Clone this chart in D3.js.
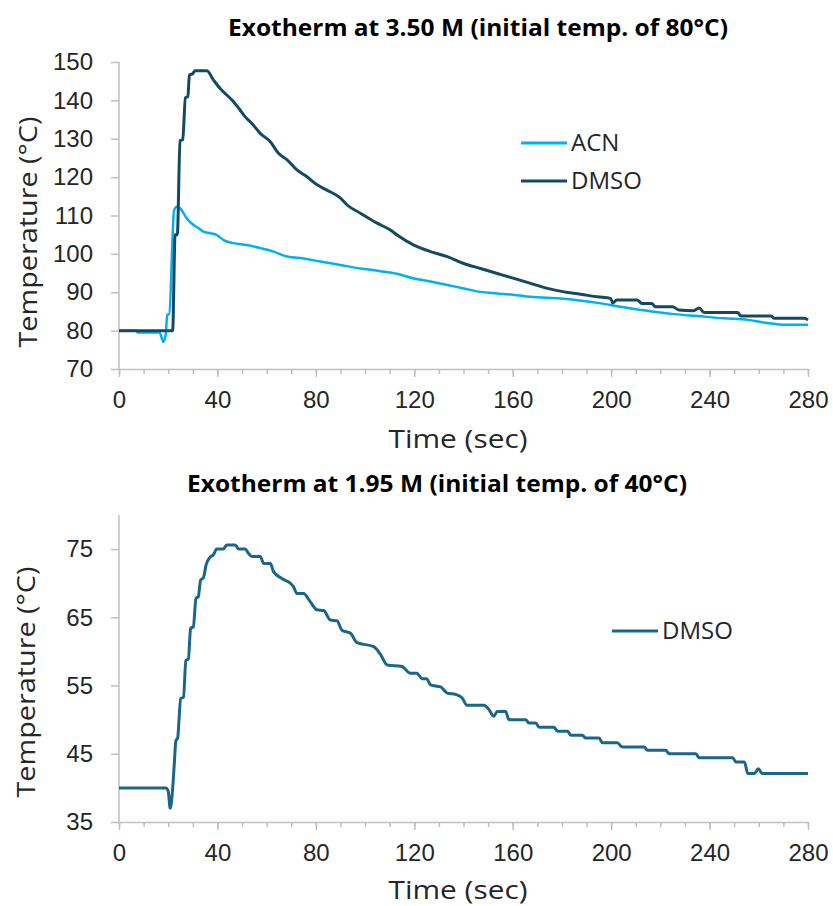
<!DOCTYPE html>
<html>
<head>
<meta charset="utf-8">
<script src="https://cdn.jsdelivr.net/npm/d3@7"></script>
<style>
  body { margin: 0; background: #fff; }
  svg { display: block; font-family: "Open Sans", sans-serif; }
  .tick text { fill: #262626; }
</style>
</head>
<body>
<svg id="chart" width="833" height="906"></svg>
<script>
// x ticks (sec)
var xMajor = [0, 40, 80, 120, 160, 200, 240, 280];
var xMinor = d3.range(0, 281, 10);

// top panel: 3.50 M, start at 80 C
var topTicks = [70, 80, 90, 100, 110, 120, 130, 140, 150];
var topAcn = [
  [0, 80], [7, 80], [7.5, 79.5], [16.5, 79.5], [18.0, 77.1], [19.0, 79], [19.6, 84.1], [20.4, 84.3],
  [22.4, 111.4], [23.5, 112.3], [24.8, 111.9], [27.5, 109.3], [30.3, 107.5], [32.3, 106.7], [34.3, 105.8],
  [37.0, 105.4], [39.8, 104.9], [42.5, 103.6], [46.5, 102.8], [52, 102.3], [57.4, 101.5], [62.8, 100.6],
  [68.3, 99.3], [75, 98.8], [81.8, 98.0], [89.9, 97.1], [98.1, 96.2], [106.2, 95.5], [113.0, 94.8],
  [119.8, 93.6], [126.6, 92.8], [133.4, 91.9], [140.1, 91.0], [146.9, 90.1], [153.7, 89.7], [160.5, 89.3],
  [167.3, 88.8], [179.5, 88.4], [195.8, 87.1], [203.9, 86.2], [212, 85.4], [217.5, 84.9], [225.6, 84.3],
  [234.9, 83.8], [245.9, 83.2], [255.5, 82.8], [262.2, 82.1], [271.7, 81.5], [280, 81.5]
];
var topDmso = [
  [0, 80], [21.8, 80], [22.8, 105], [23.7, 105], [24.8, 129.5], [25.9, 129.8], [27.0, 140.7], [28.0, 141],
  [28.6, 146.6], [30.0, 147], [30.9, 147.7], [35.7, 147.7], [38.4, 145.3], [41.1, 143.1], [43.8, 141.4],
  [45.9, 140.1], [49.2, 137.5], [51.3, 135.7], [54.0, 134.0], [57.4, 131.4], [61.5, 129.2], [64.8, 126.2],
  [68.3, 124.5], [72.3, 121.9], [76.4, 120.1], [80.5, 118.0], [84.5, 116.6], [89.9, 114.6], [92.6, 112.8],
  [98.1, 110.6], [104.9, 108.0], [110.3, 106.2], [113.0, 104.9], [119.8, 102.3], [126.6, 100.6],
  [133.4, 99.3], [140.1, 97.5], [146.9, 96.2], [153.7, 94.9], [160.5, 93.6], [167.3, 92.3], [174.1, 91.0],
  [180.8, 90.1], [187.6, 89.5], [194.4, 88.8], [199.8, 88.4], [200.6, 87.2], [202.3, 88.0], [210.5, 88.0],
  [212.5, 87.1], [216.5, 87.1], [218, 86.2], [225, 86.2], [227.5, 85.4], [233.5, 85.2], [235.8, 85.9],
  [237.8, 84.7], [251.4, 84.7], [252.7, 83.8], [265, 83.8], [266.3, 83.2], [278.5, 83.2], [280, 82.8]
];

// bottom panel: 1.95 M, start at 40 C
var botTicks = [35, 45, 55, 65, 75];
var botDmso = [
  [0, 40], [19.0, 40], [20.0, 39.5], [20.8, 37.0], [21.6, 39], [22.4, 43.1], [23.2, 47.1], [23.7, 47.1],
  [25.1, 53.1], [26.2, 53.3], [27.2, 58.7], [28.2, 58.9], [29.1, 63.4], [30.2, 63.6], [31.3, 67.8],
  [32.2, 68.0], [33.2, 70.5], [34.3, 70.8], [35.4, 72.7], [37.0, 73.8], [38.4, 74.2], [39.7, 75.0],
  [42.4, 75.0], [43.8, 75.6], [47.2, 75.6], [48.6, 75.0], [51.3, 75.0], [52.6, 74.4], [54.0, 73.9],
  [57.4, 73.9], [58.8, 72.9], [61.5, 72.9], [62.8, 71.7], [66.2, 70.7], [69.6, 70.0], [70.9, 69.5],
  [72.3, 68.5], [75, 68.5], [77.7, 67.3], [80.5, 66.1], [83.2, 66.0], [85.9, 64.6], [88.6, 64.5],
  [90.6, 63.1], [94, 62.7], [96.7, 61.3], [103.5, 60.7], [106.2, 59.6], [109, 58.0], [115, 57.8],
  [118.4, 56.8], [121, 56.8], [123.2, 56.0], [125, 56.0], [126.6, 55.1], [130.7, 54.8], [133.4, 53.9],
  [136.8, 53.7], [139.4, 53.2], [141.5, 52.1], [148.3, 52.1], [150.3, 51.5], [152.3, 50.5], [153.7, 51.2],
  [157.1, 51.2], [158.5, 50.0], [165.3, 50.0], [166.6, 49.5], [169.4, 49.5], [170.7, 48.9], [176.8, 48.9],
  [178.2, 48.3], [182.3, 48.3], [183.6, 47.7], [188.3, 47.7], [189.7, 47.3], [195.1, 47.3], [196.5, 46.6],
  [202.5, 46.6], [204.5, 46.0], [213.4, 46.0], [214.8, 45.5], [222.2, 45.5], [223.6, 45.0], [234.4, 45.0],
  [235.8, 44.4], [249.4, 44.4], [250.7, 43.8], [254.2, 43.8], [255.5, 42.1], [258.2, 42.1], [259.8, 42.8],
  [261.5, 42.1], [280, 42.1]
];

var svg = d3.select("#chart");

function drawPanel(opt) {
    var x = d3.scaleLinear().domain([0, 280]).range([119, 808]);
    var y = d3.scaleLinear().domain(opt.yDomain).range([opt.bottom, opt.top]);

    // title
    svg.append("text").attr("x", opt.titleX).attr("y", opt.titleY)
        .attr("text-anchor", "middle").attr("font-size", 23.5).attr("font-weight", "bold")
        .attr("textLength", 500).attr("lengthAdjust", "spacingAndGlyphs")
        .attr("fill", "#000").text(opt.title);

    // minor x ticks
    svg.append("g").attr("transform", "translate(0," + opt.bottom + ")")
        .call(d3.axisBottom(x).tickValues(xMinor).tickSize(5).tickFormat(""))
        .call(function (g) { g.select(".domain").remove(); })
        .selectAll("line").attr("stroke", "#bfbfbf").attr("stroke-width", 1.5);

    // major x ticks + labels
    var gx = svg.append("g").attr("transform", "translate(0," + opt.bottom + ")")
        .call(d3.axisBottom(x).tickValues(xMajor).tickSize(8).tickSizeOuter(0).tickPadding(14));
    gx.selectAll("line").attr("stroke", "#bfbfbf").attr("stroke-width", 1.5);
    gx.select(".domain").attr("stroke", "#bfbfbf").attr("stroke-width", 1.5);
    gx.selectAll("text").attr("font-size", 24).attr("font-family", null);

    // y axis
    var gy = svg.append("g").attr("transform", "translate(119,0)")
        .call(d3.axisLeft(y).tickValues(opt.yTicks).tickSize(8).tickSizeOuter(0).tickPadding(18));
    gy.select(".domain").attr("stroke", "#bfbfbf").attr("stroke-width", 1.5)
        .attr("d", "M0," + opt.bottom + "V" + opt.top);
    gy.selectAll("line").attr("stroke", "#bfbfbf").attr("stroke-width", 1.5);
    gy.selectAll("text").attr("font-size", 24).attr("font-family", null);

    // axis titles
    svg.append("text").attr("x", 458).attr("y", opt.xTitleY).attr("text-anchor", "middle")
        .attr("font-size", 26).attr("textLength", 139).attr("lengthAdjust", "spacingAndGlyphs")
        .attr("fill", "#262626").text("Time (sec)");
    svg.append("text").attr("transform", "translate(" + (opt.yTitleX) + "," + opt.yTitleY + ") rotate(-90)")
        .attr("text-anchor", "middle").attr("dy", "0.35em")
        .attr("font-size", 26).attr("textLength", 231).attr("lengthAdjust", "spacingAndGlyphs")
        .attr("fill", "#262626").text("Temperature (°C)");

    var line = d3.line()
        .x(function (d) { return x(d[0]); })
        .y(function (d) { return y(d[1]); })
        .curve(d3.curveMonotoneX);

    opt.series.forEach(function (s, i) {
        svg.append("path").datum(s.data)
            .attr("fill", "none").attr("stroke", s.color).attr("stroke-width", s.width)
            .attr("stroke-linejoin", "round").attr("d", line);
        var ly = opt.legendY[i];
        svg.append("line").attr("x1", opt.legendX).attr("x2", opt.legendX + 46)
            .attr("y1", ly).attr("y2", ly).attr("stroke", s.color).attr("stroke-width", 3);
        svg.append("text").attr("x", opt.legendX + 50).attr("y", ly).attr("dy", "0.35em")
            .attr("font-size", 24).attr("fill", "#262626").text(s.name);
    });
}

drawPanel({
    title: "Exotherm at 3.50 M (initial temp. of 80°C)",
    titleX: 478, titleY: 36,
    yDomain: [70, 150], yTicks: topTicks, top: 62, bottom: 369,
    xTitleY: 448, yTitleX: 28, yTitleY: 232,
    legendX: 521, legendY: [143, 181],
    series: [
        { name: "ACN", data: topAcn, color: "#00b0f0", width: 2.5 },
        { name: "DMSO", data: topDmso, color: "#124a63", width: 3 }
    ]
});

drawPanel({
    title: "Exotherm at 1.95 M (initial temp. of 40°C)",
    titleX: 437, titleY: 492,
    yDomain: [35, 80], yTicks: botTicks, top: 515, bottom: 822,
    xTitleY: 899, yTitleX: 26, yTitleY: 682,
    legendX: 612, legendY: [631],
    series: [
        { name: "DMSO", data: botDmso, color: "#1a6689", width: 3 }
    ]
});
</script>
</body>
</html>
